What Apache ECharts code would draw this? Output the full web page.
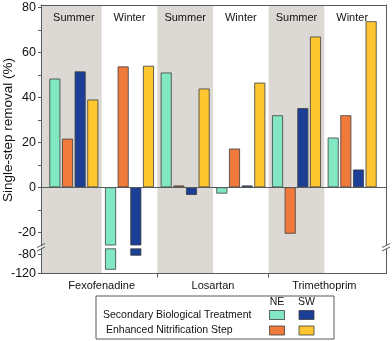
<!DOCTYPE html>
<html><head><meta charset="utf-8">
<script src="https://cdn.jsdelivr.net/npm/echarts@6/dist/echarts.min.js"></script>
<style>html,body{margin:0;padding:0;background:#fff}#c{width:392px;height:341px}</style>
</head><body><div id="c"></div>
<script>
// ---- data ----
const drugs = ['Fexofenadine', 'Losartan', 'Trimethoprim'];
const seasons = ['Summer', 'Winter'];
// order: Fex-Summer, Fex-Winter, Los-Summer, Los-Winter, Tri-Summer, Tri-Winter
const neSecondary = [48.3, -112, 51, -2.8, 32, 22.1];
const neEnhanced  = [21.6, 53.7, 0.8, 17.2, -20.6, 32];
const swSecondary = [51.5, -82.5, -3.4, 0.8, 35.2, 7.9];
const swEnhanced  = [39, 54, 43.9, 46.5, 67, 73.8];
const upperTickLabels = [-20, 0, 20, 40, 60, 80];
const upperTicks = [-20, -10, 0, 10, 20, 30, 40, 50, 60, 70, 80];
const lowerTickLabels = [-120, -80];
const legendCols = ['NE', 'SW'];
const legendRows = ['Secondary Biological Treatment', 'Enhanced Nitrification Step'];
const yTitle = 'Single-step removal (%)';

// ---- styles / layout ----
const colors = {neSecondary: '#82e8c3', neEnhanced: '#ef7a3b', swSecondary: '#1b3f96', swEnhanced: '#fec62f'};
const shade = '#dcd9d4';
const axisCol = '#555b5e';
const textCol = '#111';
const font = 'Liberation Sans, Arial, sans-serif';

const categories = [];
drugs.forEach(d => seasons.forEach(s => categories.push(d + '|' + s)));
const nCat = categories.length;

const W = 392;
const frameL = 41, frameR = 386, dataL = 46, dataR = 380;
const upTop = 5, upBot = 245, loTop = 248.8, loBot = 273.5;
const zeroY = 187.3, pxPerUp = 2.25;
const upMax = (zeroY - upTop) / pxPerUp;
const upMin = -(upBot - zeroY) / pxPerUp;
const pxPerLo = 0.475;
const loMin = -120;
const loMax = loMin + (loBot - loTop) / pxPerLo;
const catW = (dataR - dataL) / nCat;
const xmin = (frameL - dataL) / catW;
const xmax = nCat + (frameR - dataR) / catW;

const seriesDefs = [
  ['NE secondary', neSecondary, colors.neSecondary],
  ['NE enhanced', neEnhanced, colors.neEnhanced],
  ['SW secondary', swSecondary, colors.swSecondary],
  ['SW enhanced', swEnhanced, colors.swEnhanced]
];

const noAxis = {show: false};
const lineOnly = (extra) => Object.assign({
  axisLine: {show: true, onZero: false, lineStyle: {color: axisCol, width: 1}},
  axisTick: {show: false}, axisLabel: {show: false}, splitLine: {show: false}, z: 3
}, extra);

const grids = [
  {left: frameL, right: W - frameR, top: upTop, height: upBot - upTop},      // 0 frame upper
  {left: frameL, right: W - frameR, top: loTop, height: loBot - loTop},      // 1 frame lower
  {left: frameL, right: W - frameR, top: upTop, height: loBot - upTop},      // 2 background
  {left: dataL, right: W - dataR, top: upTop, height: upBot - upTop},        // 3 data upper
  {left: dataL, right: W - dataR, top: loTop, height: loBot - loTop}         // 4 data lower
];

const xAxes = [
  // 0: zero line
  lineOnly({type: 'value', gridIndex: 0, position: 'bottom', min: xmin, max: xmax,
    axisLine: {show: true, onZero: true, lineStyle: {color: axisCol, width: 1}}}),
  // 1: top border
  lineOnly({type: 'value', gridIndex: 0, position: 'top', min: xmin, max: xmax}),
  // 2: drug axis bottom
  {type: 'value', gridIndex: 1, position: 'bottom', min: xmin, max: xmax, z: 3,
    axisLine: {show: true, onZero: false, lineStyle: {color: axisCol, width: 1}},
    axisTick: {show: true, length: 4, customValues: [2, 4], lineStyle: {color: axisCol}},
    axisLabel: {show: true, customValues: drugs.map((d, i) => 2 * i + 1), margin: 7,
      formatter: v => drugs[Math.round((v - 1) / 2)], color: textCol, fontSize: 11, fontFamily: font},
    splitLine: {show: false}},
  // 3: background
  {type: 'value', gridIndex: 2, min: xmin, max: xmax, show: false},
  // 4: data upper categories
  {type: 'category', gridIndex: 3, position: 'bottom', data: categories, show: false},
  // 5: season labels
  {type: 'category', gridIndex: 3, position: 'top', data: categories, z: 3,
    axisLine: {show: false}, axisTick: {show: false},
    axisLabel: {show: true, inside: true, margin: 7, color: textCol, fontSize: 11, fontFamily: font,
      formatter: v => v.split('|')[1]}},
  // 6: data lower categories
  {type: 'category', gridIndex: 4, position: 'bottom', data: categories, show: false}
];

const yAxes = [
  // 0 upper left
  {type: 'value', gridIndex: 0, position: 'left', min: upMin, max: upMax, z: 3,
    axisLine: {show: true, onZero: false, lineStyle: {color: axisCol, width: 1}},
    axisTick: {show: true, length: 3, customValues: upperTicks, lineStyle: {color: axisCol}},
    axisLabel: {show: true, customValues: upperTickLabels, margin: 5, color: textCol, fontSize: 12.5, fontFamily: font},
    splitLine: {show: false}},
  // 1 upper right
  lineOnly({type: 'value', gridIndex: 0, position: 'right', min: upMin, max: upMax}),
  // 2 lower left
  {type: 'value', gridIndex: 1, position: 'left', min: loMin, max: loMax, z: 3,
    axisLine: {show: true, onZero: false, lineStyle: {color: axisCol, width: 1}},
    axisTick: {show: true, length: 3, customValues: lowerTickLabels, lineStyle: {color: axisCol}},
    axisLabel: {show: true, customValues: lowerTickLabels, margin: 5, color: textCol, fontSize: 12.5, fontFamily: font},
    splitLine: {show: false}},
  // 3 lower right
  lineOnly({type: 'value', gridIndex: 1, position: 'right', min: loMin, max: loMax}),
  // 4 background
  {type: 'value', gridIndex: 2, min: 0, max: 1, show: false},
  // 5 data upper
  {type: 'value', gridIndex: 3, min: upMin, max: upMax, show: false},
  // 6 data lower
  {type: 'value', gridIndex: 4, min: loMin, max: loMax, show: false}
];

const series = [];
// summer shading bands (category i spans [i, i+1] on frame x axes)
const bands = [];
categories.forEach((c, i) => {
  if (c.split('|')[1] === 'Summer') {
    bands.push([{xAxis: i === 0 ? xmin : i}, {xAxis: i === nCat - 1 ? xmax : i + 1}]);
  }
});
series.push({type: 'line', xAxisIndex: 3, yAxisIndex: 4, data: [], z: 0, silent: true,
  markArea: {silent: true, z: 0, itemStyle: {color: shade, borderWidth: 0}, data: bands}});

[[4, 5], [6, 6]].forEach(([xi, yi]) => {
  seriesDefs.forEach(([name, vals, col]) => {
    series.push({type: 'bar', name, xAxisIndex: xi, yAxisIndex: yi, data: vals.slice(),
      barWidth: 11, barGap: '15%', z: 2, clip: true, silent: true,
      itemStyle: {color: col, borderColor: '#3d3d3d', borderWidth: 0.8}});
  });
});

// legend table & decorations
const graphic = [];
// y axis title
graphic.push({type: 'text', x: 8, y: 130, rotation: Math.PI / 2,
  style: {text: yTitle, font: '13.5px ' + font, fill: textCol, align: 'center', verticalAlign: 'middle'}});
// axis break marks
[frameL, frameR].forEach(x => {
  [0, 3.5].forEach(dy => {
    graphic.push({type: 'line', shape: {x1: x - 4, y1: 247.5 + dy, x2: x + 4, y2: 243.5 + dy},
      style: {stroke: axisCol, lineWidth: 1}, z: 10});
  });
});
// legend box
const lg = {x: 96, y: 296, w: 238, h: 43, colX: [277, 306.5], headY: 302, rowY: [315, 330.5], labelX: [103, 106], sw: 15, sh: 9};
graphic.push({type: 'rect', shape: {x: lg.x, y: lg.y, width: lg.w, height: lg.h},
  style: {fill: '#fff', stroke: axisCol, lineWidth: 1}, z: 10});
legendCols.forEach((t, j) => graphic.push({type: 'text', x: lg.colX[j], y: lg.headY, z: 11,
  style: {text: t, font: '10.5px ' + font, fill: textCol, align: 'center', verticalAlign: 'middle'}}));
legendRows.forEach((t, i) => graphic.push({type: 'text', x: lg.labelX[i], y: lg.rowY[i], z: 11,
  style: {text: t, font: '10.5px ' + font, fill: textCol, align: 'left', verticalAlign: 'middle'}}));
const swatchColors = [[colors.neSecondary, colors.swSecondary], [colors.neEnhanced, colors.swEnhanced]];
swatchColors.forEach((row, i) => row.forEach((c, j) => graphic.push({type: 'rect', z: 11,
  shape: {x: lg.colX[j] - lg.sw / 2, y: lg.rowY[i] - lg.sh / 2, width: lg.sw, height: lg.sh},
  style: {fill: c, stroke: '#3d3d3d', lineWidth: 0.8}})));

const chart = echarts.init(document.getElementById('c'), null, {renderer: 'canvas'});
chart.setOption({
  animation: false,
  backgroundColor: '#fff',
  textStyle: {fontFamily: font},
  grid: grids,
  xAxis: xAxes,
  yAxis: yAxes,
  series: series,
  graphic: graphic
});
</script>
</body></html>
